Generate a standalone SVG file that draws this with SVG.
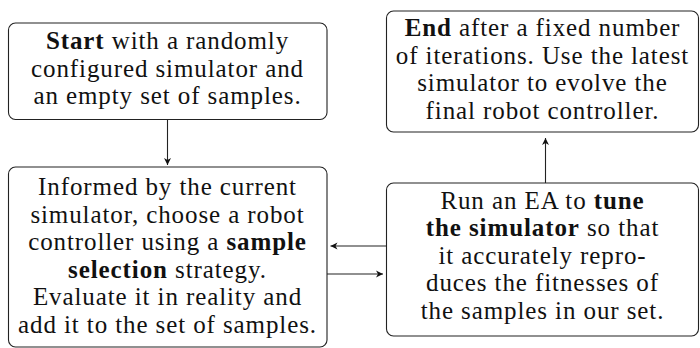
<svg xmlns="http://www.w3.org/2000/svg" width="700" height="348" viewBox="0 0 700 348">
<defs>
<marker id="arr" viewBox="-8 -4 9 8" refX="0" refY="0" markerWidth="9" markerHeight="8" markerUnits="userSpaceOnUse" orient="auto">
<path d="M0,0 L-7,-3.5 L-5,0 L-7,3.5 Z" fill="#111"/>
</marker>
</defs>
<style>
.box{fill:#fff;stroke:#222;stroke-width:1.1}
.t{font-family:"Liberation Serif","Times New Roman",serif;font-size:25px;fill:#111;text-anchor:middle;letter-spacing:0.9px}
.b{font-weight:bold}
.c{stroke:#222;stroke-width:1.1;fill:none;marker-end:url(#arr)}
</style>
<rect width="700" height="348" fill="#fff"/>
<g id="start">
<rect class="box" x="8.5" y="23" width="318.5" height="96.5" rx="7"/>
<text class="t" x="167.5" y="49"><tspan class="b">Start</tspan> with a randomly</text>
<text class="t" x="167.5" y="76.5">configured simulator and</text>
<text class="t" x="167.5" y="104">an empty set of samples.</text>
</g>
<g id="select">
<rect class="box" x="8.5" y="167" width="318.5" height="180" rx="7"/>
<text class="t" x="167.5" y="195">Informed by the current</text>
<text class="t" x="167.5" y="222.5">simulator, choose a robot</text>
<text class="t" x="167.5" y="250">controller using a <tspan class="b">sample</tspan></text>
<text class="t" x="167.5" y="277.5"><tspan class="b">selection</tspan> strategy.</text>
<text class="t" x="167.5" y="305">Evaluate it in reality and</text>
<text class="t" x="167.5" y="332.5">add it to the set of samples.</text>
</g>
<g id="end">
<rect class="box" x="386.5" y="11" width="312" height="121" rx="7"/>
<text class="t" x="542.5" y="36"><tspan class="b">End</tspan> after a fixed number</text>
<text class="t" x="542.5" y="63.5">of iterations. Use the latest</text>
<text class="t" x="542.5" y="91">simulator to evolve the</text>
<text class="t" x="542.5" y="118.5">final robot controller.</text>
</g>
<g id="tune">
<rect class="box" x="386.5" y="183" width="312" height="153" rx="7"/>
<text class="t" x="542.5" y="208.5">Run an EA to <tspan class="b">tune</tspan></text>
<text class="t" x="542.5" y="236"><tspan class="b">the simulator</tspan> so that</text>
<text class="t" x="542.5" y="263.5">it accurately repro-</text>
<text class="t" x="542.5" y="291">duces the fitnesses of</text>
<text class="t" x="542.5" y="318.5">the samples in our set.</text>
</g>
<g id="connectors">
<line class="c" x1="167.5" y1="119.5" x2="167.5" y2="165"/>
<line class="c" x1="545.5" y1="183" x2="545.5" y2="138"/>
<line class="c" x1="386.5" y1="246" x2="330.5" y2="246"/>
<line class="c" x1="327" y1="274" x2="383" y2="274"/>
</g>
</svg>
